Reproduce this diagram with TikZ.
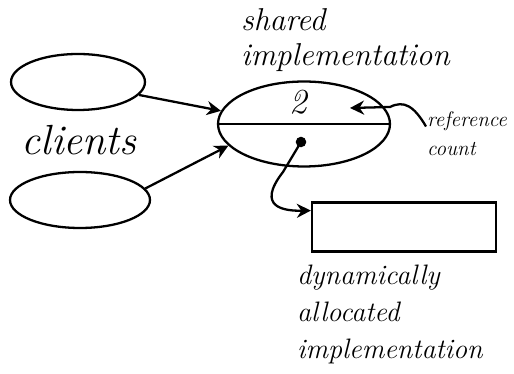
\documentclass[tikz,border=0pt]{standalone}
\usetikzlibrary{shapes.geometric,arrows.meta}
\begin{document}
\begin{tikzpicture}[x=0.02cm,y=-0.02cm,line width=1.3pt,>={Stealth[length=8pt,width=8pt]},
    hand/.style 2 args={font=\itshape\fontsize{#1}{#2}\selectfont,align=left,inner sep=0pt}]
        \useasboundingbox (0,0) rectangle (514,374);
        % clients
        \node[draw,ellipse,minimum width=2.68cm,minimum height=1.12cm] (cl1) at (78,82) {};
        \node[draw,ellipse,minimum width=2.8cm,minimum height=1.12cm] (cl2) at (80,200) {};
        \node[hand={24}{28}] (clients) at (79,140) {clients};
        % shared implementation
        \node[draw,ellipse,minimum width=3.44cm,minimum height=1.7cm] (impl) at (304,124) {};
        \draw (impl.west) -- (impl.east);
        \node[hand={18}{20},anchor=west] (shared) at (240,40) {shared\\implementation};
        \node[hand={20}{22}] (count) at (298,102) {2};
        \draw[->] (cl1.-12) -- (impl.171);
        \draw[->] (cl2.10) -- (impl.196);
        % reference count
        \node[hand={12}{16},anchor=north west] (ref) at (426,111) {reference\\count};
        \coordinate (cnt) at (350,108);
        \draw[->] (ref.170) .. controls (414,106) and (404,100) .. (390,107) -- (cnt);
        % pointer
        \coordinate (ptr) at (301,142);
        \fill (ptr) circle (3pt);
        \node[draw,minimum width=3.68cm,minimum height=0.98cm] (box) at (404,227) {};
        \draw[->] (ptr) -- (283,172) .. controls (255,208) and (285,211) .. (box.170);
        \node[hand={16}{21},anchor=north west] (dyn) at (296,264) {dynamically\\allocated\\implementation};
    \end{tikzpicture}
\end{document}
